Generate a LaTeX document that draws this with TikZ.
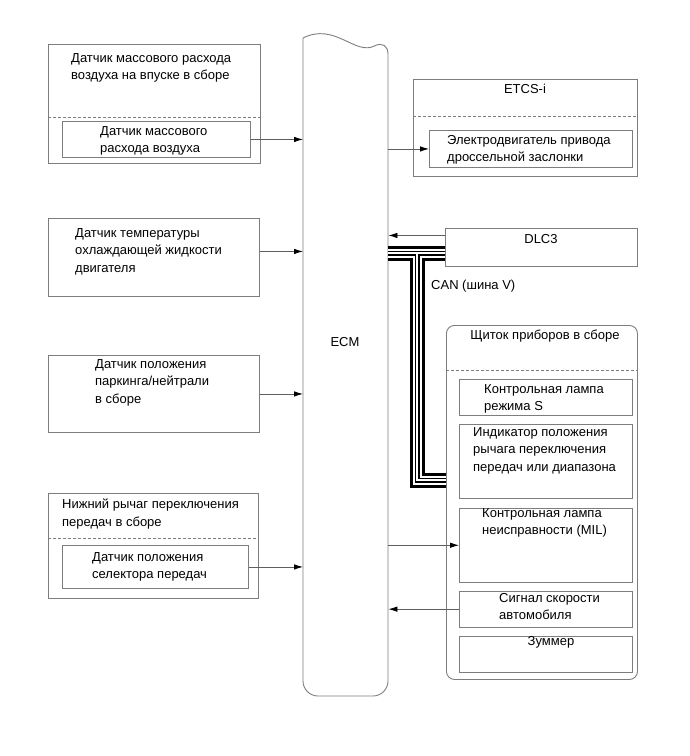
\documentclass[tikz,border=0pt]{standalone}
\usepackage{fontspec}
\setmainfont{Liberation Sans}
\usetikzlibrary{arrows.meta, positioning}
\definecolor{boxborder}{RGB}{125,125,125}
\definecolor{wirecolor}{RGB}{95,95,95}
\newcommand{\lbl}{\fontsize{13}{17.5}\selectfont}
\tikzset{
    unit/.style={rectangle, draw=boxborder, line width=0.9pt, inner sep=0pt, anchor=north west},
    txt/.style={anchor=north west, align=left, inner sep=0pt, font=\lbl, yshift=-2pt},
    divider/.style={draw=boxborder, line width=0.8pt, dash pattern=on 3pt off 2pt},
    arrow/.style={-{Latex[length=9pt, width=5.5pt, color=black]}, draw=wirecolor, line width=0.8pt}
}

\begin{document}
\begin{tikzpicture}[x=1pt, y=-1pt]
\useasboundingbox (0,0) rectangle (689,756);

    % ECM column
    \node[inner sep=0pt, minimum width=85pt, minimum height=658pt, anchor=north west] (ecm) at (303,38) {};
    \draw[boxborder, line width=0.9pt, rounded corners=15pt] (303,38) .. controls (335,22) and (355,56) .. (388,39) -- (388,696) -- (303,696) -- (303,38);
    \node[font=\lbl, inner sep=0pt] (ecmlbl) at (345,342) {ECM};

    % inputs on the left
    \node[unit, minimum width=212pt, minimum height=119pt] (maf) at (48,44) {};
    \coordinate (mafcut) at (0,117);
    \draw[divider] (maf.west |- mafcut) -- (maf.east |- mafcut);
    \node[unit, minimum width=188pt, minimum height=36pt] (mafin) at (62,121) {};
    \node[txt] (maftitle) at (71,51) {Датчик массового расхода\\воздуха на впуске в сборе};
    \node[txt] (mafsens) at (100,124) {Датчик массового\\расхода воздуха};

    \node[unit, minimum width=211pt, minimum height=78pt] (cool) at (48,218) {};
    \node[txt] (cooltxt) at (75,226) {Датчик температуры\\охлаждающей жидкости\\двигателя};

    \node[unit, minimum width=211pt, minimum height=77pt] (park) at (48,355) {};
    \node[txt] (parktxt) at (95,357) {Датчик положения\\паркинга/нейтрали\\в сборе};

    \node[unit, minimum width=210pt, minimum height=105pt] (lvr) at (48,493) {};
    \coordinate (lvrcut) at (0,538);
    \draw[divider] (lvr.west |- lvrcut) -- (lvr.east |- lvrcut);
    \node[unit, minimum width=186pt, minimum height=43pt] (lvrin) at (62,545) {};
    \node[txt] (lvrtitle) at (62,497) {Нижний рычаг переключения\\передач в сборе};
    \node[txt] (lvrsens) at (92,550) {Датчик положения\\селектора передач};

    % outputs on the right
    \node[unit, minimum width=224pt, minimum height=97pt] (etcs) at (413,79) {};
    \coordinate (etcscut) at (0,116);
    \draw[divider] (etcs.west |- etcscut) -- (etcs.east |- etcscut);
    \node[unit, minimum width=203pt, minimum height=37pt] (etcsin) at (429,130) {};
    \node[txt, anchor=north] (etcsttl) at (525,82) {ETCS-i};
    \node[txt] (etcsmot) at (447,133) {Электродвигатель привода\\дроссельной заслонки};

    \node[unit, minimum width=192pt, minimum height=38pt] (dlc) at (445,228) {};
    \node[txt, anchor=north] (dlctxt) at (541,232) {DLC3};

    \node[unit, rounded corners=8pt, minimum width=191pt, minimum height=354pt] (combo) at (446,325) {};
    \coordinate (combocut) at (0,370);
    \draw[divider] (combo.west |- combocut) -- (combo.east |- combocut);
    \node[txt, anchor=north] (combottl) at (545,328) {Щиток приборов в сборе};

    \node[unit, minimum width=173pt, minimum height=36pt] (lampS) at (459,379) {};
    \node[unit, minimum width=173pt, minimum height=74pt, below=8pt of lampS.south west, anchor=north west] (gearind) {};
    \node[unit, minimum width=173pt, minimum height=74pt, below=9pt of gearind.south west, anchor=north west] (mil) {};
    \node[unit, minimum width=173pt, minimum height=36pt, below=8pt of mil.south west, anchor=north west] (spd) {};
    \node[unit, minimum width=173pt, minimum height=36pt, below=8pt of spd.south west, anchor=north west] (buzz) {};

    \node[txt] (lampStxt) at (484,382) {Контрольная лампа\\режима S};
    \node[txt] (gearindtxt) at (473,425) {Индикатор положения\\рычага переключения\\передач или диапазона};
    \node[txt] (miltxt) at (482,506) {Контрольная лампа\\неисправности (MIL)};
    \node[txt] (spdtxt) at (499,591) {Сигнал скорости\\автомобиля};
    \node[txt, anchor=north] (buzztxt) at (551,634) {Зуммер};

    % CAN bus
    \coordinate (can) at (417,253);
    \coordinate (canbot) at (417,480);
    \foreach \w/\c in {15/black, 9/white, 5/black, 1.5/white}
        \draw[line width=\w pt, \c] (ecm.east |- can) -- (dlc.west |- can) (can) |- (combo.west |- canbot);
    \node[txt] (cantxt) at (431,278) {CAN (шина V)};

    % signals
    \draw[arrow] (mafin.east) -- (mafin.east -| ecm.west);
    \draw[arrow] ([yshift=6pt]cool.east) -- ([yshift=6pt]cool.east -| ecm.west);
    \draw[arrow] (park.east) -- (park.east -| ecm.west);
    \draw[arrow] (lvrin.east) -- (lvrin.east -| ecm.west);
    \draw[arrow] (etcsin.west -| ecm.east) -- (etcsin.west);
    \draw[arrow] ([yshift=12pt]dlc.west) -- ([yshift=12pt]dlc.west -| ecm.east);
    \draw[arrow] (mil.west -| ecm.east) -- (mil.west);
    \draw[arrow] (spd.west) -- (spd.west -| ecm.east);

\end{tikzpicture}
\end{document}
